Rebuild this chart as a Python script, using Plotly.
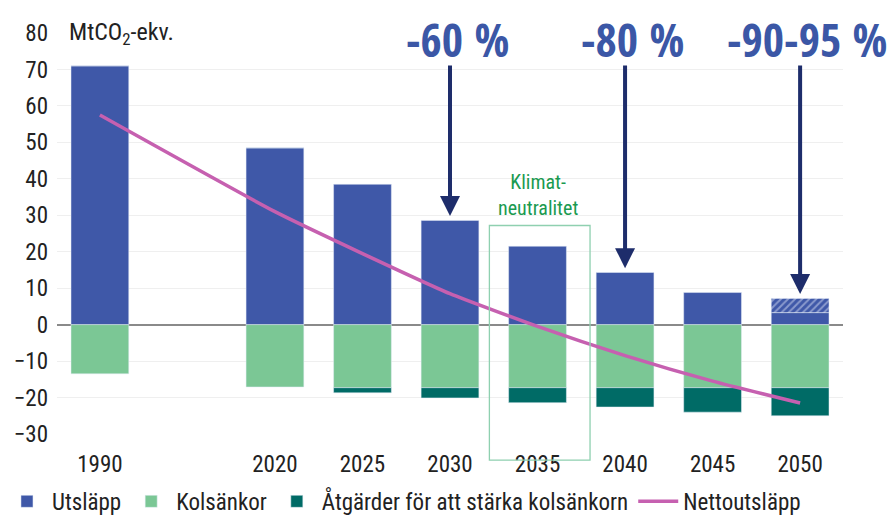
import plotly.graph_objects as go

# ---- data ----
axis_categories = ["1990", " ", "2020", "2025", "2030", "2035", "2040", "2045", "2050"]
years = ["1990", "2020", "2025", "2030", "2035", "2040", "2045", "2050"]
utslapp = [71.0, 48.5, 38.5, 28.6, 21.5, 14.3, 8.8, 3.3]
utslapp_extra_year = ["2050"]
utslapp_extra = [3.9]
kolsankor = [-13.5, -17.1, -17.3, -17.3, -17.3, -17.3, -17.3, -17.3]
atgarder = [0.0, 0.0, -1.4, -2.8, -4.1, -5.3, -6.7, -7.7]
netto = [57.5, 31.0, 19.5, 8.5, -0.5, -8.5, -15.5, -21.5]
y_ticks = [-30, -20, -10, 0, 10, 20, 30, 40, 50, 60, 70, 80]
targets = [("2030", "-60 %", 28.6), ("2040", "-80 %", 14.3), ("2050", "-90-95 %", 7.2)]
klimat_year = "2035"

FONT = "Roboto Condensed, Liberation Sans Narrow, sans-serif"
BOLD_FONT = "Open Sans Condensed, Roboto Condensed, sans-serif"
BLUE = "#3f58a8"
LGREEN = "#7bc795"
TEAL = "#006b66"
PINK = "#c660b0"
NAVY = "#1e2d6b"


def idx(cat):
    return axis_categories.index(cat)


fig = go.Figure()
fig.add_trace(go.Bar(name="Utsläpp", x=years, y=utslapp, marker_color=BLUE, width=0.66))
fig.add_trace(go.Bar(name="Utsläpp (osäker)", x=utslapp_extra_year, y=utslapp_extra, width=0.66,
                     showlegend=False,
                     marker=dict(color=BLUE, pattern=dict(shape="/", fgcolor="#d5dcf2", bgcolor=BLUE,
                                                          size=5, solidity=0.4))))
fig.add_trace(go.Bar(name="Kolsänkor", x=years, y=kolsankor, marker_color=LGREEN, width=0.66))
fig.add_trace(go.Bar(name="Åtgärder för att stärka kolsänkorn", x=years, y=atgarder,
                     marker_color=TEAL, width=0.66))
fig.add_trace(go.Scatter(name="Nettoutsläpp", x=years, y=netto, mode="lines",
                         line=dict(color=PINK, width=3.5, shape="spline", smoothing=0.5)))

annotations = [
    dict(text="MtCO<sub>2</sub>-ekv.", xref="paper", yref="y", x=0.0, y=80, xanchor="left",
         xshift=10, yanchor="middle", showarrow=False,
         font=dict(family=FONT, size=24, color="#222")),
    dict(text="Klimat-<br>neutralitet", xref="x", yref="y", x=idx(klimat_year), y=35.5,
         showarrow=False, font=dict(family=FONT, size=20, color="#1a9a50"), align="center"),
]
for yr, label, top in targets:
    annotations.append(dict(text="<b>" + label + "</b>", xref="x", yref="y", x=idx(yr), y=78.3,
                            xshift=7, showarrow=False,
                            font=dict(family=BOLD_FONT, size=46, color="#3b57a6")))
    annotations.append(dict(text="", xref="x", yref="y", x=idx(yr), y=top + 1.2,
                            axref="pixel", ayref="y", ax=0, ay=71.5,
                            showarrow=True, arrowhead=2, arrowsize=1.0, arrowwidth=4,
                            arrowcolor=NAVY, standoff=0))

fig.update_layout(
    width=888, height=510,
    margin=dict(l=49, r=53, t=25, b=84, autoexpand=False),
    paper_bgcolor="white", plot_bgcolor="white",
    barmode="relative", bargap=0.34,
    font=dict(family=FONT, size=22, color="#222"),
    annotations=annotations,
    shapes=[dict(type="rect", xref="x", yref="paper",
                 x0=idx(klimat_year) - 0.55, x1=idx(klimat_year) + 0.6, y0=-0.065, y1=0.52,
                 line=dict(color="#8fd0b0", width=1.3), fillcolor="rgba(0,0,0,0)", layer="above")],
    legend=dict(orientation="h", x=-0.07, xanchor="left", y=-0.168, yanchor="middle",
                font=dict(family=FONT, size=23, color="#222"), itemwidth=40,
                traceorder="normal", tracegroupgap=0),
    xaxis=dict(type="category", categoryorder="array", categoryarray=axis_categories,
               range=[-0.49, 8.49], showgrid=False, ticks="", showline=False,
               ticklabelstandoff=14, automargin=False,
               tickfont=dict(family=FONT, size=23, color="#222")),
    yaxis=dict(range=[-30, 80], tickvals=y_ticks, showgrid=True, gridcolor="#efefef", gridwidth=1,
               zeroline=True, zerolinecolor="#8a8a8a", zerolinewidth=1.5, ticks="",
               ticklabelstandoff=8, automargin=False,
               tickfont=dict(family=FONT, size=23, color="#222")),
)

fig.write_html("out.html")
